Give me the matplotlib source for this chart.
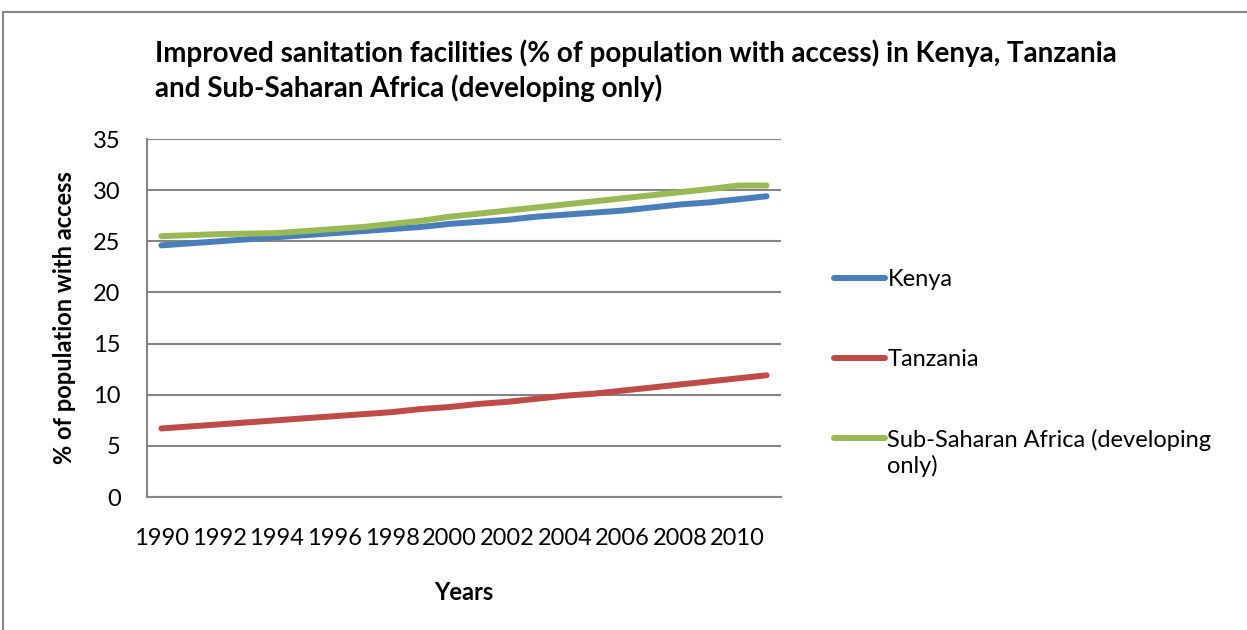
import matplotlib.pyplot as plt
from matplotlib.patches import Rectangle
from matplotlib.legend_handler import HandlerLine2D

# Data
years = list(range(1990, 2012))
kenya = [24.6, 24.8, 25.0, 25.2, 25.4, 25.6, 25.8, 26.0, 26.2, 26.4, 26.7,
         26.9, 27.1, 27.4, 27.6, 27.8, 28.0, 28.3, 28.6, 28.8, 29.1, 29.4]
tanzania = [6.7, 6.9, 7.1, 7.3, 7.5, 7.7, 7.9, 8.1, 8.3, 8.6, 8.8,
            9.1, 9.3, 9.6, 9.9, 10.1, 10.4, 10.7, 11.0, 11.3, 11.6, 11.9]
ssa = [25.5, 25.6, 25.7, 25.75, 25.8, 26.0, 26.2, 26.4, 26.7, 27.0, 27.4,
       27.7, 28.0, 28.3, 28.6, 28.9, 29.2, 29.5, 29.8, 30.1, 30.45, 30.45]
series_names = ['Kenya', 'Tanzania', 'Sub-Saharan Africa (developing\nonly)']
series_colors = ['#4A7EBB', '#BE4B48', '#98B954']

plt.rcParams['font.family'] = ['Lato', 'DejaVu Sans']


class FirstLineHandler(HandlerLine2D):
    # put the legend line next to the first text line (Excel style)
    def create_artists(self, legend, orig_handle, xdescent, ydescent,
                       width, height, fontsize, trans):
        artists = super().create_artists(legend, orig_handle, xdescent, ydescent,
                                         width, height, fontsize, trans)
        for a in artists:
            a.set_ydata([y + 0.65 * fontsize for y in a.get_ydata()])
        return artists


fig = plt.figure(figsize=(12.47, 6.3), dpi=100)
W, H = 1247, 630

# chart area border (runs off the image to the right and bottom)
fig.patches.append(Rectangle((3 / W, -0.1), 1.2, 1 - 12 / H + 0.1,
                             transform=fig.transFigure, fill=False,
                             edgecolor='#868686', linewidth=1.5))

ax = fig.add_axes([147 / W, 1 - 497 / H, (781 - 147) / W, (497 - 139) / H])

x = list(range(len(years)))
lines = []
for vals, name, col in zip([kenya, tanzania, ssa], series_names, series_colors):
    ln, = ax.plot(x, vals, color=col, linewidth=4.3, solid_capstyle='round', label=name)
    lines.append(ln)

ax.set_xlim(-0.5, len(years) - 0.5)
ax.set_ylim(0, 35)
ax.set_yticks(range(0, 36, 5))
ax.set_xticks(x[::2])
ax.set_xticklabels([str(y) for y in years[::2]])
ax.tick_params(axis='both', length=0, labelsize=17)
ax.tick_params(axis='y', pad=19)
ax.tick_params(axis='x', pad=22)
ax.grid(axis='y', color='#868686', linewidth=1.5)
ax.set_axisbelow(True)
for s in ['top', 'right']:
    ax.spines[s].set_visible(False)
for s in ['left', 'bottom']:
    ax.spines[s].set_color('#868686')
    ax.spines[s].set_linewidth(1.5)

ax.set_ylabel('% of population with access', fontsize=17, fontweight='bold', labelpad=12)
ax.set_xlabel('Years', fontsize=17, fontweight='bold', labelpad=23)

fig.text(155 / W, 1 - 39 / H,
         'Improved sanitation facilities (% of population with access) in Kenya, Tanzania\n'
         'and Sub-Saharan Africa (developing only)',
         fontsize=20, fontweight='bold', va='top', ha='left', linespacing=1.35)

fig.legend(handles=lines, loc='upper left', bbox_to_anchor=(813 / W, 1 - 248 / H),
           frameon=False, fontsize=17, handlelength=2.15, handletextpad=0.1,
           labelspacing=2.5, handler_map={lines[2]: FirstLineHandler()})

fig.savefig('out.png', dpi=100)
